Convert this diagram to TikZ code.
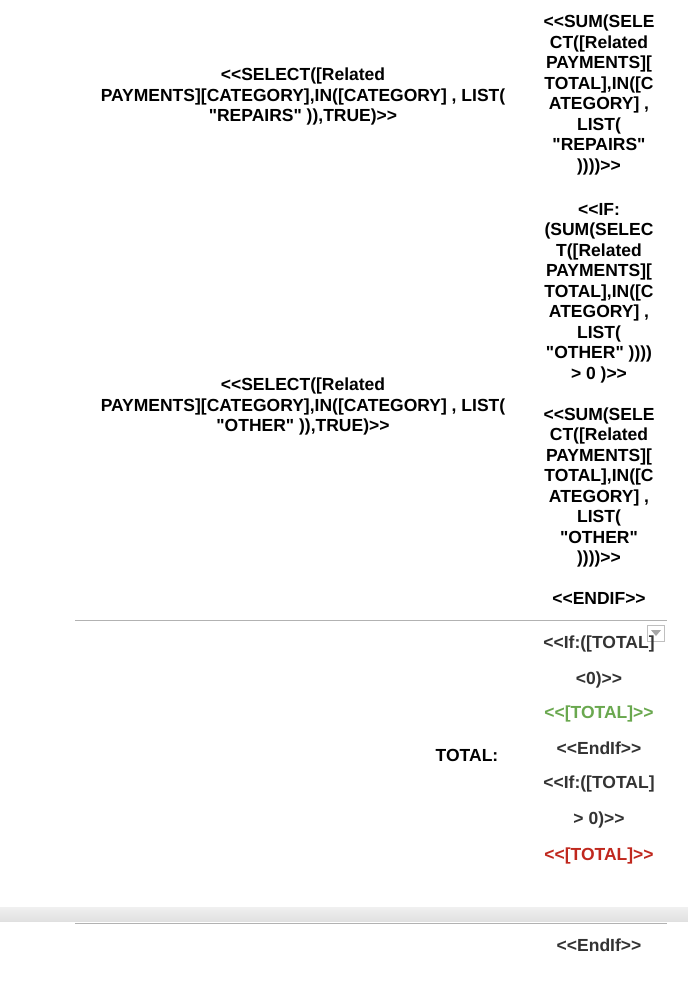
\documentclass[tikz,border=0pt]{standalone}
\usepackage{fontspec}
\setmainfont[Ligatures=TeXOff]{Liberation Sans}
\definecolor{tgreen}{HTML}{6AA84F}
\definecolor{tred}{HTML}{C0281E}
\definecolor{tdark}{HTML}{333333}
\begin{document}
\begin{tikzpicture}[x=1pt,y=-1pt,
  txt/.style={font=\fontsize{17.5}{20.5}\selectfont\bfseries,align=center,inner sep=0pt,anchor=north},
  rule/.style={draw=black!30,line width=1pt}]
\useasboundingbox (0,0) rectangle (688,999);
\fill[white] (0,0) rectangle (688,999);
% right column upper
\node[txt] (r1) at (599,15) {<<SUM(SELE\\CT([Related\\PAYMENTS][\\TOTAL],IN([C\\ATEGORY] ,\\LIST(\\"REPAIRS"\\))))>>};
\node[txt] (r2) at (599,203) {<<IF:\\(SUM(SELEC\\T([Related\\PAYMENTS][\\TOTAL],IN([C\\ATEGORY] ,\\LIST(\\"OTHER" ))))\\> 0 )>>\\[20.5pt]<<SUM(SELE\\CT([Related\\PAYMENTS][\\TOTAL],IN([C\\ATEGORY] ,\\LIST(\\"OTHER"\\))))>>\\[20.5pt]<<ENDIF>>};
% left column
\node[txt] (l1) at (303,68) {<<SELECT([Related\\PAYMENTS][CATEGORY],IN([CATEGORY] , LIST(\\"REPAIRS" )),TRUE)>>};
\node[txt] (l2) at (303,378) {<<SELECT([Related\\PAYMENTS][CATEGORY],IN([CATEGORY] , LIST(\\"OTHER" )),TRUE)>>};
% separator
\coordinate (s1a) at (75,620); \coordinate (s1b) at (667,620);
\draw[rule] (s1a) -- (s1b);
% dropdown icon
\node[draw=black!25,fill=white,minimum width=17pt,minimum height=16pt,inner sep=0pt] (dd) at (656,633) {};
\fill[black!35] (651,630) -- (661,630) -- (656,636) -- cycle;
% lower block
\node[txt,text=tdark] (a1) at (599,636) {<<If:([TOTAL]};
\node[txt,text=tdark] (a2) at (599,672) {<0)>>};
\node[txt,text=tgreen] (a3) at (599,706) {<<[TOTAL]>>};
\node[txt,text=tdark] (a4) at (599,742) {<<EndIf>>};
\node[txt,text=tdark] (a5) at (599,776) {<<If:([TOTAL]};
\node[txt,text=tdark] (a6) at (599,812) {> 0)>>};
\node[txt,text=tred] (a7) at (599,848) {<<[TOTAL]>>};
\node[txt] (tot) at (467,749) {TOTAL:};
% gray band
\shade[top color=black!6,bottom color=black!12] (0,907) rectangle (688,921);
\coordinate (s2a) at (75,923); \coordinate (s2b) at (667,923);
\draw[rule] (s2a) -- (s2b);
\node[txt,text=tdark] (e1) at (599,939) {<<EndIf>>};
\end{tikzpicture}
\end{document}
